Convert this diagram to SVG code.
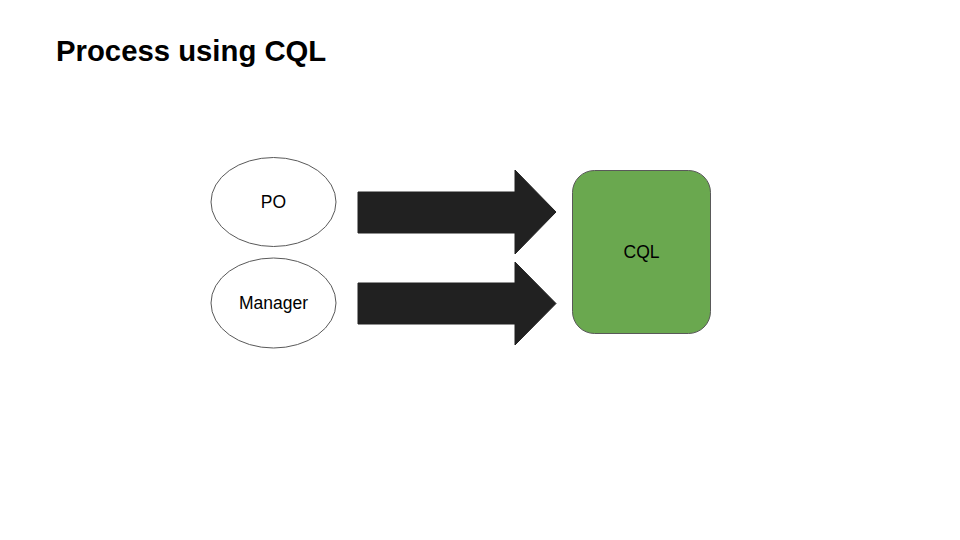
<svg xmlns="http://www.w3.org/2000/svg" width="960" height="540" viewBox="0 0 960 540">
<style>
.title{font-family:"Liberation Sans",Arial,sans-serif;font-weight:bold;font-size:29.3px;fill:#000}
.lbl{font-family:"Liberation Sans",Arial,sans-serif;font-size:17.5px;fill:#000;text-anchor:middle;dominant-baseline:central}
.ell{fill:#fff;stroke:#595959;stroke-width:1}
.arr{fill:#212121;stroke:#212121;stroke-width:1}
</style>
<rect width="960" height="540" fill="#fff"/>
<text class="title" x="56" y="61">Process using CQL</text>
<g id="po"><ellipse class="ell" cx="273.5" cy="202" rx="62.5" ry="44.5"/><text class="lbl" x="273.5" y="202">PO</text></g>
<g id="manager"><ellipse class="ell" cx="273.5" cy="303" rx="62.5" ry="45"/><text class="lbl" x="273.5" y="303">Manager</text></g>
<g id="cql"><rect x="572.5" y="170.5" width="138" height="163" rx="22" fill="#6aa84f" stroke="#595959" stroke-width="1"/><text class="lbl" x="641.5" y="252">CQL</text></g>
<g id="connectors">
<polygon class="arr" points="358,192 515,192 515,170 556,212 515,254 515,233 358,233"/>
<polygon class="arr" points="358,283 515,283 515,262 556,303.5 515,345 515,324 358,324"/>
</g>
</svg>
